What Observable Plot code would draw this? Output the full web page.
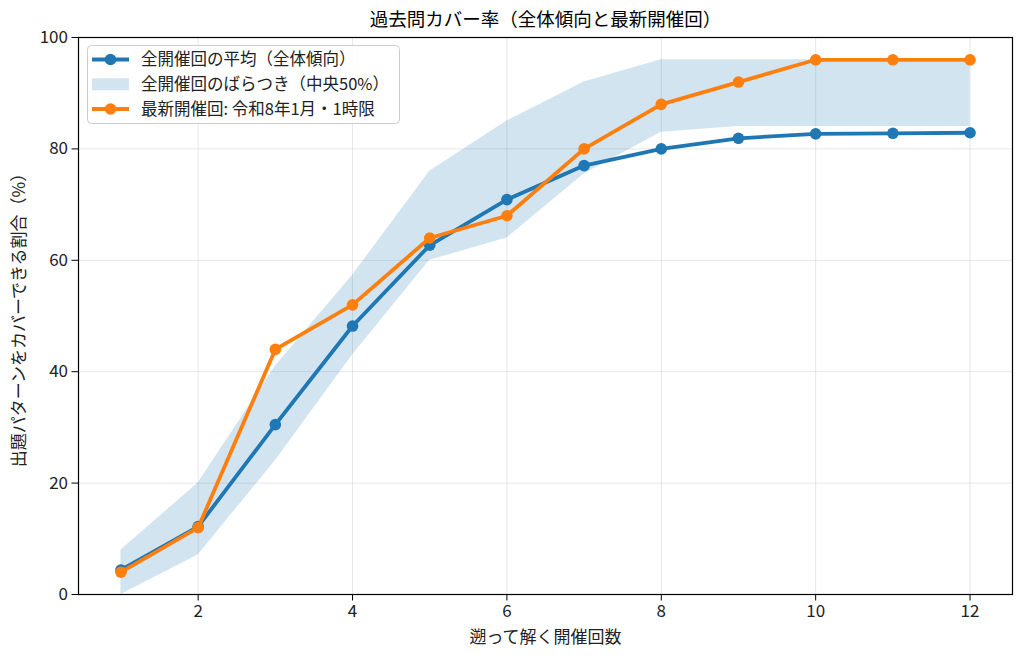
<!DOCTYPE html>
<html>
<head>
<meta charset="utf-8">
<script src="https://cdn.jsdelivr.net/npm/d3@7"></script>
<script src="https://cdn.jsdelivr.net/npm/@observablehq/plot@0.6"></script>
<style>
  html, body { margin: 0; padding: 0; background: #fff; }
  #chart { position: relative; width: 1024px; height: 657px; }
</style>
</head>
<body>
<div id="chart"></div>
<script>
// ---- data ----
const sessions = [1, 2, 3, 4, 5, 6, 7, 8, 9, 10, 11, 12];
const meanCoverage = [4.4, 12.2, 30.5, 48.2, 62.7, 70.9, 77.0, 80.0, 81.9, 82.7, 82.8, 82.9];
const latestCoverage = [4.0, 12.0, 44.0, 52.0, 64.0, 68.0, 80.0, 88.0, 92.0, 96.0, 96.0, 96.0];
const q25 = [0, 7.1, 24, 43, 60, 64, 75.5, 83, 84, 84, 84, 84];
const q75 = [8, 20, 41, 57.3, 76, 85, 92, 96, 96, 96, 96, 96];
const xTicks = [2, 4, 6, 8, 10, 12];
const yTicks = [0, 20, 40, 60, 80, 100];

const titleText = "過去問カバー率（全体傾向と最新開催回）";
const xLabel = "遡って解く開催回数";
const yLabel = "出題パターンをカバーできる割合（%）";
const legendLabels = ["全開催回の平均（全体傾向）", "全開催回のばらつき（中央50%）", "最新開催回: 令和8年1月・1時限"];

const BLUE = "#1f77b4", ORANGE = "#ff7f0e";
const FONT = "'Noto Sans CJK JP', 'Noto Sans', sans-serif";

const meanData = sessions.map((s, i) => ({x: s, y: meanCoverage[i]}));
const latestData = sessions.map((s, i) => ({x: s, y: latestCoverage[i]}));
const bandData = sessions.map((s, i) => ({x: s, lo: q25[i], hi: q75[i]}));

const plot = Plot.plot({
  width: 1024,
  height: 657,
  marginLeft: 78,
  marginRight: 12,
  marginTop: 37,
  marginBottom: 63,
  style: {fontFamily: FONT, fontSize: "16px", color: "#222", background: "#fff"},
  x: {type: "linear", domain: [0.45, 12.55]},
  y: {type: "linear", domain: [0, 100]},
  marks: [
    Plot.gridX(xTicks, {stroke: "#b0b0b0", strokeOpacity: 0.3, strokeWidth: 1}),
    Plot.gridY(yTicks, {stroke: "#b0b0b0", strokeOpacity: 0.3, strokeWidth: 1}),
    Plot.areaY(bandData, {x: "x", y1: "lo", y2: "hi", fill: BLUE, fillOpacity: 0.2}),
    Plot.line(meanData, {x: "x", y: "y", stroke: BLUE, strokeWidth: 3.8}),
    Plot.dot(meanData, {x: "x", y: "y", fill: BLUE, r: 5.8}),
    Plot.line(latestData, {x: "x", y: "y", stroke: ORANGE, strokeWidth: 3.8}),
    Plot.dot(latestData, {x: "x", y: "y", fill: ORANGE, r: 5.8}),
    Plot.frame({stroke: "#000", strokeWidth: 1.2}),
    Plot.axisX(xTicks, {
      tickSize: 6.5, tickPadding: 4, fontSize: 17, stroke: "#000",
      label: xLabel, labelAnchor: "center", labelArrow: "none", labelOffset: 48
    }),
    Plot.axisY(yTicks, {
      tickSize: 6.5, tickPadding: 4, fontSize: 17, stroke: "#000",
      label: yLabel, labelAnchor: "center", labelArrow: "none", labelOffset: 66
    }),
    Plot.text([titleText], {frameAnchor: "top", dy: -17, fontSize: 18.5, fill: "#000", text: d => d, lineAnchor: "middle"})
  ]
});

document.getElementById("chart").appendChild(plot);

// ---- legend (inside plot, top-left) ----
const svg = d3.select(plot);
const lg = svg.append("g").attr("font-family", FONT).attr("font-size", 16.5).attr("text-anchor", "start");
lg.append("rect")
  .attr("x", 87.5).attr("y", 45.5).attr("width", 312).attr("height", 78)
  .attr("rx", 4).attr("fill", "#fff").attr("fill-opacity", 0.8)
  .attr("stroke", "#cccccc").attr("stroke-width", 1);
const rowsY = [59.5, 84.3, 109];
// row 1: mean line
lg.append("line").attr("x1", 92).attr("x2", 129).attr("y1", rowsY[0]).attr("y2", rowsY[0]).attr("stroke", BLUE).attr("stroke-width", 3.8);
lg.append("circle").attr("cx", 110.5).attr("cy", rowsY[0]).attr("r", 5.8).attr("fill", BLUE);
// row 2: band
lg.append("rect").attr("x", 92).attr("y", rowsY[1] - 6).attr("width", 37).attr("height", 12).attr("fill", BLUE).attr("fill-opacity", 0.2);
// row 3: latest line
lg.append("line").attr("x1", 92).attr("x2", 129).attr("y1", rowsY[2]).attr("y2", rowsY[2]).attr("stroke", ORANGE).attr("stroke-width", 3.8);
lg.append("circle").attr("cx", 110.5).attr("cy", rowsY[2]).attr("r", 5.8).attr("fill", ORANGE);
legendLabels.forEach((t, i) => {
  lg.append("text").attr("x", 141).attr("y", rowsY[i]).attr("dy", "0.35em").attr("fill", "#222").attr("text-anchor", "start").text(t);
});
</script>
</body>
</html>
